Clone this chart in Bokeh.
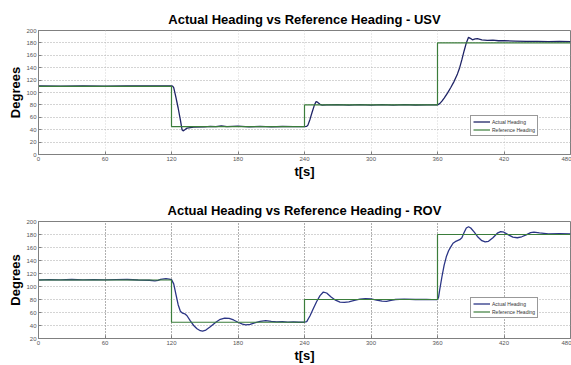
from bokeh.plotting import figure
from bokeh.layouts import column
from bokeh.models import Range1d, FixedTicker, Legend, LegendItem
from bokeh.embed import file_html
from bokeh.resources import INLINE

# ---------------- data ----------------
x_ticks = [0, 60, 120, 180, 240, 300, 360, 420, 480]
usv_y_ticks = [0, 20, 40, 60, 80, 100, 120, 140, 160, 180, 200]
rov_y_ticks = [20, 40, 60, 80, 100, 120, 140, 160, 180, 200]

ref_times = [0, 120, 240, 360, 480]
ref_levels = [110, 45, 80, 180, 180]

usv_t = [0, 20, 40, 60, 80, 100, 115, 120, 121, 122, 124, 126, 128, 129.5, 130.5, 132, 134,
         137, 140, 150, 155, 160, 165, 170, 180, 190, 200, 210, 220, 230, 240,
         242, 243, 245, 247, 249, 250.5, 252, 254, 256, 260, 270, 280, 290, 300, 310,
         320, 330, 340, 350, 360, 362, 364, 366, 369, 372, 375, 378, 380, 382, 384,
         386, 388, 390, 391.5, 394, 396, 400, 405, 410, 415, 420, 430, 440, 450, 460,
         470, 480]
usv_heading = [110.5, 110.3, 110.6, 110.4, 110.7, 110.5, 110.6, 110.5, 110.2, 108, 92, 75, 56, 40,
               38, 40, 42.5, 43.5, 44, 44.5, 45.5, 45, 46, 45, 45.8, 44.6, 45.3, 44.5, 45.2,
               44.8, 45, 45.5, 47, 57, 69, 80, 85.5, 84, 81, 79.5, 80, 80.5, 79.6, 80.4, 79.5,
               80.3, 79.6, 80.4, 79.8, 80.2, 80, 82, 86, 91, 99, 108, 118, 130, 140, 153,
               167, 180, 189, 187, 185, 186.5, 187, 185, 184, 184.5, 183.5, 183.5, 183,
               182.5, 182.5, 182, 182.3, 182]

rov_t = [0, 10, 20, 30, 40, 50, 60, 70, 80, 90, 100, 105, 108, 110, 115, 118, 120, 122, 124,
         126, 128, 130, 132, 134, 137, 140, 143, 146, 148, 151, 155, 160, 164, 168, 172,
         176, 180, 184, 187, 191, 195, 200, 205, 210, 215, 220, 225, 230, 235, 240, 242,
         245, 248, 251, 254, 257, 260, 264, 268, 272, 276, 280, 285, 290, 295, 300, 305,
         310, 314, 318, 322, 330, 340, 350, 355, 360, 361, 362, 364, 366, 368, 370, 372,
         374, 376, 378, 380, 382, 384, 386, 388, 390, 393, 396, 400, 403, 406, 410, 414,
         417, 420, 424, 428, 432, 436, 440, 444, 447, 452, 460, 470, 480]
rov_heading = [110, 110.5, 110.2, 110.8, 110.3, 110.6, 110.2, 110.5, 110.8, 110, 109.6, 108.5,
               109.5, 111, 112, 111.5, 110.5, 104, 88, 72, 62, 59, 58, 55, 47, 40, 35, 32,
               31.5, 33, 38, 45, 49.5, 51.5, 51, 48.5, 45, 42, 41, 41.8, 44, 46.5, 47.5,
               46.5, 45.6, 45.8, 45.2, 45.4, 45, 45, 46, 55, 66, 77, 86, 91.5, 90, 84, 79,
               76, 75.5, 76.5, 78.5, 80.5, 81.5, 81, 79, 77.5, 77, 78.5, 80, 80.6, 80, 80.3,
               79.8, 80, 84, 95, 115, 133, 146, 155, 161, 166.5, 169, 170.5, 172, 175, 183,
               190, 192, 190, 184, 177, 170.5, 168.5, 169.5, 175, 182, 184.5, 183.5, 179.5,
               176, 175, 176.5, 179.5, 183, 183.8, 182.5, 181, 181.5, 181]

usv_title = "Actual Heading vs Reference Heading - USV"
rov_title = "Actual Heading vs Reference Heading - ROV"

FONT = "Liberation Sans"
GREEN = "#3b7d3b"


def make_fig(height, border_top, border_bottom, ymin, yticks, t, y, actual_color,
             vgrid_color, vgrid_dash, legend_loc, title):
    p = figure(width=571, height=height, x_range=Range1d(0, 480), y_range=Range1d(ymin, 200),
               output_backend="svg", toolbar_location=None,
               min_border_left=38, min_border_right=1, min_border_top=border_top,
               min_border_bottom=border_bottom)
    p.background_fill_color = "white"
    p.border_fill_color = "white"
    p.outline_line_color = "#808080"

    p.title.text = title
    p.title.text_font = FONT
    p.title.text_font_size = "13px"
    p.title.text_font_style = "bold"
    p.title.text_color = "black"
    p.title.align = "center"
    p.title.standoff = 7

    p.xaxis.ticker = FixedTicker(ticks=x_ticks)
    p.yaxis.ticker = FixedTicker(ticks=yticks)
    for ax in (p.xaxis, p.yaxis):
        ax.axis_line_color = "#808080"
        ax.major_tick_in = 3
        ax.major_tick_out = 0
        ax.major_tick_line_color = "#808080"
        ax.minor_tick_line_color = None
        ax.major_label_text_font = FONT
        ax.major_label_text_font_size = "6px"
        ax.major_label_text_color = "#555555"
        ax.major_label_standoff = 2
        ax.axis_label_text_font = FONT
        ax.axis_label_text_font_style = "bold"
        ax.axis_label_text_font_size = "13px"
        ax.axis_label_text_color = "black"
        ax.axis_label_standoff = 3
    p.xaxis.axis_label = "t[s]"
    p.xaxis.axis_label_standoff = 0
    p.yaxis.axis_label = "Degrees"
    p.yaxis.axis_label_standoff = 0

    p.xgrid.grid_line_color = vgrid_color
    p.xgrid.grid_line_dash = vgrid_dash
    p.ygrid.grid_line_color = "#a8a8a8"
    p.ygrid.grid_line_dash = "1 2"

    r1 = p.line(t, y, line_color=actual_color, line_width=1.3)
    r2 = p.step(ref_times, ref_levels, mode="after", line_color=GREEN, line_width=1.2)

    legend = Legend(items=[LegendItem(label="Actual Heading", renderers=[r1]),
                           LegendItem(label="Reference Heading", renderers=[r2])],
                    location=legend_loc)
    legend.label_text_font = FONT
    legend.label_text_font_size = "5px"
    legend.label_text_color = "#333333"
    legend.label_height = 7
    legend.glyph_height = 7
    legend.glyph_width = 17
    legend.label_standoff = 2
    legend.spacing = 1
    legend.padding = 2
    legend.margin = 0
    legend.border_line_color = "#333333"
    legend.border_line_width = 1
    legend.background_fill_alpha = 1
    p.add_layout(legend)
    return p


p1 = make_fig(185, 30, 31, 0, usv_y_ticks, usv_t, usv_heading, "#1f2466", "#d4d4d4", "1 2",
              (432, 18), usv_title)
p2 = make_fig(180, 36, 0, 20, rov_y_ticks, rov_t, rov_heading, "#2b3585", "#606060", "1 2",
              (432, 20), rov_title)

layout = column(p1, p2, spacing=0)
open("out.html", "w").write(file_html(layout, INLINE))
